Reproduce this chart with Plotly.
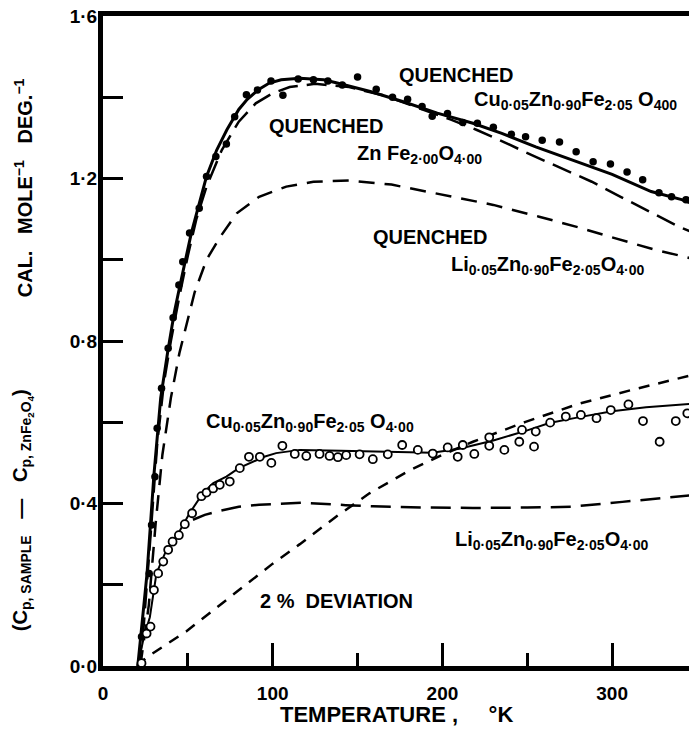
import plotly.graph_objects as go

# Upper curves: quenched samples
cu_fit_t = [20.5, 23, 26, 30, 34, 38, 42, 45, 52, 61, 67, 73, 80, 85, 92, 98, 105, 116, 130,
            138, 157.5, 177, 197, 218, 235, 255, 282, 300, 323, 341, 346]
cu_fit_v = [0.0, 0.1, 0.23, 0.47, 0.66, 0.77, 0.87, 0.93, 1.065, 1.205, 1.27, 1.32, 1.37, 1.395,
            1.42, 1.435, 1.443, 1.447, 1.443, 1.435, 1.414, 1.389, 1.361, 1.336, 1.311, 1.278,
            1.237, 1.21, 1.168, 1.148, 1.14]

cu_pts_t = [22.7, 27.2, 28.6, 30.6, 31.9, 34.5, 38.4, 41.3, 44.7, 47, 51, 56.7, 61, 66.5, 72.7,
            77.6, 84.5, 91, 99, 106, 115, 124, 132.5, 141, 150, 161, 170.6, 179.5, 188, 194, 203,
            212, 220.6, 230, 240.6, 249, 258.8, 269, 278.8, 288.8, 299, 308.8, 318, 327.6, 335, 343.5]
cu_pts_v = [0.072, 0.228, 0.347, 0.466, 0.585, 0.684, 0.782, 0.857, 0.938, 0.995, 1.066, 1.127,
            1.205, 1.254, 1.285, 1.352, 1.406, 1.418, 1.44, 1.405, 1.445, 1.443, 1.44, 1.43, 1.45,
            1.42, 1.40, 1.395, 1.377, 1.353, 1.36, 1.338, 1.336, 1.326, 1.309, 1.303, 1.294, 1.29,
            1.266, 1.241, 1.236, 1.216, 1.197, 1.165, 1.155, 1.148]

zn_t = [21, 24, 28, 32, 36, 40, 45, 50, 55, 61, 70, 80, 90, 100, 110, 125, 145, 165, 185, 205,
        220, 232, 254, 270, 288, 305, 322, 340, 346]
zn_v = [0.0, 0.1, 0.32, 0.55, 0.7, 0.8, 0.91, 1.01, 1.1, 1.18, 1.27, 1.34, 1.385, 1.41, 1.425,
        1.433, 1.425, 1.405, 1.375, 1.345, 1.32, 1.298, 1.255, 1.225, 1.192, 1.155, 1.118, 1.08, 1.07]

li_t = [22, 27, 31, 35, 40, 45, 54, 61, 69, 79, 92, 108, 124, 145, 170, 200, 230, 257, 280, 300,
        325, 346]
li_v = [0.0, 0.15, 0.35, 0.52, 0.66, 0.77, 0.92, 1.0, 1.056, 1.115, 1.155, 1.18, 1.192, 1.195,
        1.185, 1.16, 1.135, 1.106, 1.08, 1.055, 1.025, 1.004]

# Lower curves: Cp(sample) - Cp(ZnFe2O4)
dcu_fit_t = [20.5, 24, 27.6, 31.5, 36.5, 43.3, 51, 58.8, 65, 72.7, 80, 86.5, 95, 102, 116, 140,
             170, 194, 210, 230, 250, 263, 280, 300, 320, 346]
dcu_fit_v = [0.0, 0.07, 0.12, 0.228, 0.277, 0.318, 0.376, 0.425, 0.45, 0.466, 0.487, 0.50, 0.515,
             0.524, 0.532, 0.53, 0.528, 0.525, 0.535, 0.555, 0.58, 0.598, 0.612, 0.627, 0.637, 0.645]

dcu_pts_t = [22.7, 25.7, 28, 30, 32.5, 35.5, 38.4, 41, 44.7, 48.2, 52.5, 58, 61, 64.9, 68.8, 74.7,
             80.6, 86, 92.4, 99.2, 105.7, 113, 119.8, 127.6, 133.5, 138.4, 143.3, 151.2, 159,
             167.8, 176.3, 185.5, 194.3, 203.1, 209, 212, 218.8, 227.6, 227.6, 236.5, 245.3, 246.9,
             255, 254, 263.5, 272.7, 281.6, 290.8, 299.2, 309.6, 318.2, 328, 337.5, 344.3]
dcu_pts_v = [0.007, 0.080, 0.097, 0.187, 0.228, 0.257, 0.286, 0.306, 0.322, 0.349, 0.376, 0.418,
             0.427, 0.437, 0.446, 0.454, 0.487, 0.515, 0.515, 0.500, 0.542, 0.522, 0.517, 0.522,
             0.517, 0.514, 0.519, 0.521, 0.509, 0.521, 0.544, 0.532, 0.523, 0.538, 0.515, 0.544,
             0.522, 0.563, 0.542, 0.532, 0.552, 0.581, 0.577, 0.540, 0.599, 0.614, 0.618, 0.610,
             0.630, 0.644, 0.603, 0.552, 0.603, 0.622]

dli_t = [53, 60, 69, 80, 92, 105, 118, 143, 159, 190, 218, 250, 276, 306, 339, 346]
dli_v = [0.36, 0.372, 0.382, 0.392, 0.397, 0.40, 0.402, 0.396, 0.393, 0.39, 0.389, 0.39, 0.392,
         0.404, 0.417, 0.42]

dev_t = [20, 26, 49, 78.6, 100, 116, 137.5, 157, 180, 200, 218, 249, 280, 312, 346]
dev_v = [0.0, 0.022, 0.085, 0.183, 0.252, 0.300, 0.368, 0.425, 0.48, 0.52, 0.552, 0.601, 0.645,
         0.68, 0.715]

y_ticks = [0, 0.2, 0.4, 0.6, 0.8, 1.0, 1.2, 1.4, 1.6]
y_labels = ["0·0", "", "0·4", "", "0·8", "", "1·2", "", "1·6"]
x_ticks = [0, 100, 200, 300]
x_labels = ["0", "100", "200", "300"]

FONT = "Liberation Sans"
ink = "black"

fig = go.Figure()

fig.add_trace(go.Scatter(x=li_t, y=li_v, mode="lines",
                         line=dict(color=ink, width=2.5, dash="16px,10px")))
fig.add_trace(go.Scatter(x=zn_t, y=zn_v, mode="lines",
                         line=dict(color=ink, width=2.5, dash="20px,9px")))
fig.add_trace(go.Scatter(x=cu_fit_t, y=cu_fit_v, mode="lines",
                         line=dict(color=ink, width=3)))
fig.add_trace(go.Scatter(x=cu_pts_t, y=cu_pts_v, mode="markers",
                         marker=dict(color=ink, size=7.5)))

fig.add_trace(go.Scatter(x=dev_t, y=dev_v, mode="lines",
                         line=dict(color=ink, width=2.5, dash="11px,9px")))
fig.add_trace(go.Scatter(x=dli_t, y=dli_v, mode="lines",
                         line=dict(color=ink, width=2.5, dash="20px,10px")))
fig.add_trace(go.Scatter(x=dcu_fit_t, y=dcu_fit_v, mode="lines",
                         line=dict(color=ink, width=2)))
fig.add_trace(go.Scatter(x=dcu_pts_t, y=dcu_pts_v, mode="markers",
                         marker=dict(color="white", size=8, line=dict(color=ink, width=1.8))))

# curve labels
labels = [
    (173.5, 1.455, "QUENCHED"),
    (217.6, 1.391, "Cu<sub>0·05</sub>Zn<sub>0·90</sub>Fe<sub>2·05</sub> O<sub>400</sub>"),
    (96.5, 1.329, "QUENCHED"),
    (148.2, 1.26, "Zn Fe<sub>2·00</sub>O<sub>4·00</sub>"),
    (158.2, 1.055, "QUENCHED"),
    (204, 0.987, "Li<sub>0·05</sub>Zn<sub>0·90</sub>Fe<sub>2·05</sub>O<sub>4·00</sub>"),
    (59.4, 0.60, "Cu<sub>0·05</sub>Zn<sub>0·90</sub>Fe<sub>2·05</sub> O<sub>4·00</sub>"),
    (206, 0.31, "Li<sub>0·05</sub>Zn<sub>0·90</sub>Fe<sub>2·05</sub>O<sub>4·00</sub>"),
    (91.2, 0.16, "2 %  DEVIATION"),
]
for lx, ly, txt in labels:
    fig.add_annotation(x=lx, y=ly, text=txt, showarrow=False, xanchor="left", yanchor="middle",
                       font=dict(family=FONT, size=20, color=ink, weight="bold"))

# axis titles
fig.add_annotation(xref="paper", yref="paper", x=0.5, y=-0.074, xanchor="center",
                   yanchor="middle", text="TEMPERATURE ,     °K", showarrow=False,
                   font=dict(family=FONT, size=22, color=ink, weight="bold"))
fig.add_annotation(xref="paper", yref="paper", x=-0.1365, y=0.735, xanchor="center",
                   yanchor="middle", textangle=-90,
                   text="CAL.   MOLE<sup>−1</sup>   DEG.<sup>−1</sup>", showarrow=False,
                   font=dict(family=FONT, size=20, color=ink, weight="bold"))
fig.add_annotation(xref="paper", yref="paper", x=-0.138, y=0.24, xanchor="center",
                   yanchor="middle", textangle=-90,
                   text="(C<sub>p, SAMPLE</sub>   —   C<sub>p, ZnFe<sub>2</sub>O<sub>4</sub></sub>)",
                   showarrow=False,
                   font=dict(family=FONT, size=20, color=ink, weight="bold"))

fig.update_xaxes(range=[0, 345.3], showline=True, linewidth=5, linecolor=ink, mirror=True,
                 ticks="inside", ticklen=23, tickwidth=3, tickcolor=ink,
                 tickvals=x_ticks, ticktext=x_labels, ticklabelstandoff=6,
                 minor=dict(ticks="inside", tickvals=[50, 150, 250], ticklen=13, tickwidth=3,
                            tickcolor=ink),
                 showgrid=False, zeroline=False,
                 tickfont=dict(family=FONT, size=19, color=ink, weight="bold"))
fig.update_yaxes(range=[0, 1.6], showline=True, linewidth=5, linecolor=ink,
                 ticks="inside", ticklen=20, tickwidth=3, tickcolor=ink,
                 tickvals=y_ticks, ticktext=y_labels, ticklabelstandoff=-3,
                 showgrid=False, zeroline=False,
                 tickfont=dict(family=FONT, size=19, color=ink, weight="bold"))

fig.update_layout(
    width=689,
    height=729,
    margin=dict(l=103, r=0, t=16, b=63),
    showlegend=False,
    plot_bgcolor="white",
    paper_bgcolor="white",
)

# page body margin off so the figure sits at the window's corner
fig.write_html("out.html", config={"displayModeBar": False},
               post_script="document.body.style.margin='0';")
